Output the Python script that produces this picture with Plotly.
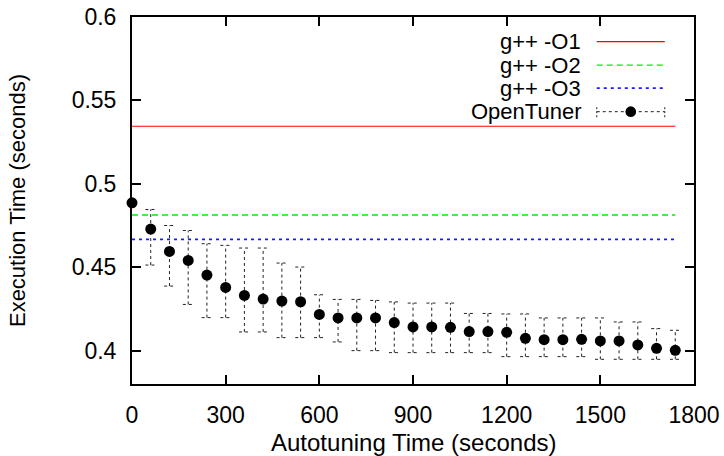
import plotly.graph_objects as go

# ---- data ----
times = [0, 60, 120, 180, 240, 300, 360, 420, 480, 540, 600, 660, 720, 780, 840,
         900, 960, 1020, 1080, 1140, 1200, 1260, 1320, 1380, 1440, 1500, 1560, 1620, 1680, 1740]
median = [0.4886, 0.4729, 0.4595, 0.4541, 0.4453, 0.4379, 0.4331, 0.4309, 0.4297, 0.4293,
          0.4217, 0.4196, 0.4196, 0.4196, 0.4168, 0.4142, 0.4142, 0.4140, 0.4114, 0.4114,
          0.4110, 0.4074, 0.4066, 0.4066, 0.4068, 0.4058, 0.4058, 0.4034, 0.4014, 0.4002]
upper = [None, 0.4846, 0.4750, 0.4720, 0.4641, 0.4631, 0.4615, 0.4615, 0.4525, 0.4501,
         0.4335, 0.4307, 0.4307, 0.4301, 0.4292, 0.4285, 0.4285, 0.4285, 0.4223, 0.4223,
         0.4220, 0.4220, 0.4196, 0.4196, 0.4196, 0.4196, 0.4172, 0.4172, 0.4132, 0.4122]
lower = [None, 0.4513, 0.4387, 0.4277, 0.4198, 0.4198, 0.4112, 0.4112, 0.4078, 0.4078,
         0.4078, 0.4052, 0.4000, 0.4000, 0.3988, 0.3988, 0.3988, 0.3988, 0.3988, 0.3988,
         0.3964, 0.3964, 0.3964, 0.3964, 0.3964, 0.3948, 0.3948, 0.3948, 0.3948, 0.3948]
baseline_names = ["g++ -O1", "g++ -O2", "g++ -O3"]
baseline_values = [0.5345, 0.4813, 0.4667]
baseline_colors = ["#ff0000", "#00ee00", "#1a1aff"]
baseline_dash = ["solid", "6px,4px", "3px,4px"]
baseline_width = [1.2, 1.4, 1.7]
x_ticks = [0, 300, 600, 900, 1200, 1500, 1800]
y_ticks = [0.4, 0.45, 0.5, 0.55, 0.6]
y_tick_text = ["0.4", "0.45", "0.5", "0.55", "0.6"]
x_title = "Autotuning Time (seconds)"
y_title = "Execution Time (seconds)"

FONT = "Liberation Sans, Arial, Helvetica, sans-serif"
CAP = 17  # cap half-width in seconds

fig = go.Figure()

for name, val, col, dsh, w in zip(baseline_names, baseline_values, baseline_colors,
                                  baseline_dash, baseline_width):
    fig.add_trace(go.Scatter(
        x=[times[0], times[-1]], y=[val, val], mode="lines",
        line=dict(color=col, width=w, dash=dsh), name=name, showlegend=False,
        hoverinfo="skip"))

ex, ey = [], []
for t, lo, hi in zip(times, lower, upper):
    if lo is None or hi is None:
        continue
    ex += [t, t, None, t - CAP, t + CAP, None, t - CAP, t + CAP, None]
    ey += [lo, hi, None, hi, hi, None, lo, lo, None]
fig.add_trace(go.Scatter(x=ex, y=ey, mode="lines",
                         line=dict(color="#222222", width=1, dash="3px,3px"),
                         showlegend=False, hoverinfo="skip"))

fig.add_trace(go.Scatter(x=times, y=median, mode="markers",
                         marker=dict(color="black", size=11), name="OpenTuner",
                         showlegend=False, cliponaxis=False))

# ---- gnuplot style key (text left, sample right) ----
key_text_x = 0.800
key_x0, key_x1 = 0.827, 0.948
key_rows = [0.933, 0.869, 0.806, 0.742]
key_labels = baseline_names + ["OpenTuner"]
shapes = []
annotations = []
for i, lab in enumerate(key_labels):
    yy = key_rows[i]
    annotations.append(dict(x=key_text_x, y=yy, xref="paper", yref="paper", text=lab,
                            showarrow=False, xanchor="right", yanchor="middle",
                            borderpad=0,
                            font=dict(family=FONT, size=22, color="black")))
    if i < 3:
        shapes.append(dict(type="line", xref="paper", yref="paper", x0=key_x0, x1=key_x1,
                           y0=yy, y1=yy,
                           line=dict(color=baseline_colors[i], width=baseline_width[i],
                                     dash=baseline_dash[i])))
    else:
        shapes.append(dict(type="line", xref="paper", yref="paper", x0=key_x0, x1=key_x1,
                           y0=yy, y1=yy, line=dict(color="#222222", width=1, dash="3px,3px")))
        for xx in (key_x0, key_x1):
            shapes.append(dict(type="line", xref="paper", yref="paper", x0=xx, x1=xx,
                               y0=yy - 0.015, y1=yy + 0.015,
                               line=dict(color="#222222", width=1, dash="2px,2px")))
        xm = (key_x0 + key_x1) / 2
        shapes.append(dict(type="circle", xref="paper", yref="paper",
                           x0=xm - 0.0095, x1=xm + 0.0095, y0=yy - 0.0145, y1=yy + 0.0145,
                           fillcolor="black", line=dict(color="black", width=0)))

# x axis title as an annotation so it can sit close to the bottom edge
annotations.append(dict(x=0.5, y=-0.160, xref="paper", yref="paper", text=x_title,
                        showarrow=False, xanchor="center", yanchor="middle", borderpad=0,
                        font=dict(family=FONT, size=24, color="black")))

fig.update_layout(
    width=724, height=456,
    margin=dict(l=132, r=30, t=17, b=72, autoexpand=False),
    paper_bgcolor="white", plot_bgcolor="white",
    font=dict(family=FONT, size=22, color="black"),
    showlegend=False,
    shapes=shapes, annotations=annotations,
)
fig.update_xaxes(range=[0, 1800], tickvals=x_ticks, ticks="inside", ticklen=9, tickwidth=1.5,
                 tickcolor="black", showline=True, linecolor="black", linewidth=2,
                 mirror="ticks", showgrid=False, zeroline=False, automargin=False,
                 ticklabelstandoff=9, ticklabeloverflow="allow",
                 tickfont=dict(family=FONT, size=23))
fig.update_yaxes(range=[0.38, 0.6], tickvals=y_ticks, ticktext=y_tick_text, ticks="inside",
                 ticklen=9, tickwidth=1.5, tickcolor="black", showline=True, linecolor="black",
                 linewidth=2, mirror="ticks", showgrid=False, zeroline=False, automargin=False,
                 ticklabelstandoff=9, ticklabeloverflow="allow",
                 title=dict(text=y_title, standoff=40, font=dict(family=FONT, size=22)),
                 tickfont=dict(family=FONT, size=23))

fig.write_html("out.html", config={"displayModeBar": False},
               post_script="document.body.style.margin='0';")
